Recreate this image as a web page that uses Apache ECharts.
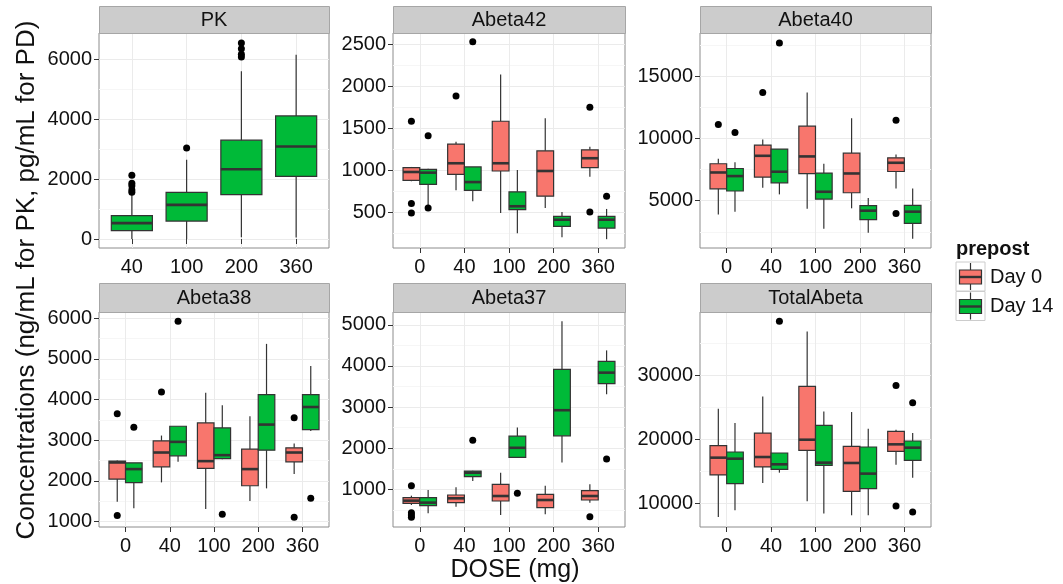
<!DOCTYPE html>
<html>
<head>
<meta charset="utf-8">
<script src="https://cdn.jsdelivr.net/npm/echarts@6/dist/echarts.min.js"></script>
<style>
  html, body { margin: 0; padding: 0; background: #ffffff; }
  #chart { width: 1063px; height: 584px; }
</style>
</head>
<body>
<div id="chart"></div>
<script>
// ---- Dose levels (x axis categories) ----
const dosesPK = ['40', '100', '200', '360'];
const dosesPD = ['0', '40', '100', '200', '360'];

// ---- Box summaries: [lower whisker, Q1, median, Q3, upper whisker] per dose ----
// Outliers: list of values per dose.

// PK (Day 14 only)
const pkDay14 = [[0, 280, 530, 780, 1500], [0, 600, 1140, 1560, 2650], [60, 1480, 2330, 3300, 5600], [50, 2090, 3090, 4110, 6150]];
const pkDay14Out = [[1560, 1640, 1780, 1860, 2130], [3040], [6080, 6170, 6350, 6550], []];

// Abeta42
const ab42Day0 = [[870, 880, 980, 1032, 1040], [764, 952, 1084, 1312, 1340], [492, 992, 1084, 1584, 2140], [552, 692, 992, 1232, 1620], [924, 1032, 1144, 1244, 1280]];
const ab42Day0Out = [[1584, 604, 492], [1884], [], [], [1752, 504]];
const ab42Day14 = [[580, 832, 972, 1012, 1020], [632, 760, 860, 1040, 1040], [252, 532, 572, 744, 1004], [204, 332, 412, 452, 504], [180, 312, 412, 452, 540]];
const ab42Day14Out = [[1412, 552], [2532], [], [], [692]];

// Abeta40
const ab40Day0 = [[3900, 5960, 7270, 7970, 8370], [6040, 6900, 8610, 9470, 9920], [4360, 7170, 8560, 10990, 13690], [4390, 5640, 7190, 8820, 11630], [5990, 7350, 8050, 8450, 8720]];
const ab40Day0Out = [[11120], [13690], [], [], [11470, 3980]];
const ab40Day14 = [[4120, 5780, 6980, 7590, 8100], [5510, 6440, 7330, 9150, 9150], [2750, 5130, 5720, 7220, 7970], [2430, 3480, 4200, 4600, 5210], [1950, 3180, 4120, 4630, 5990]];
const ab40Day14Out = [[10480], [17680], [], [], []];

// Abeta38
const ab38Day0 = [[1490, 2046, 2454, 2487, 2500], [1964, 2348, 2699, 2985, 3116], [1310, 2307, 2487, 3426, 4170], [1507, 1882, 2291, 2781, 3590], [2168, 2471, 2699, 2814, 2920]];
const ab38Day0Out = [[3655, 1147], [4186], [], [], [3557, 1106]];
const ab38Day14 = [[1327, 1956, 2291, 2446, 2450], [2471, 2618, 2961, 3345, 3345], [2536, 2550, 2634, 3304, 3860], [1817, 2757, 3386, 4121, 5371], [3230, 3263, 3818, 4121, 4824]];
const ab38Day14Out = [[3320], [5927], [1180], [], [1572]];

// Abeta37
const ab37Day0 = [[620, 661, 725, 798, 846], [580, 677, 782, 863, 1048], [378, 717, 838, 1121, 1404], [394, 556, 741, 879, 1089], [677, 741, 838, 968, 1121]];
const ab37Day0Out = [[1089, 434, 378, 321], [], [], [], [337]];
const ab37Day14 = [[418, 604, 677, 798, 984], [1202, 1307, 1404, 1444, 1450], [1776, 1776, 2010, 2293, 2503], [1654, 2301, 2923, 3917, 5088], [3311, 3569, 3836, 4111, 4377]];
const ab37Day14Out = [[], [2196], [903], [], [1735]];

// TotalAbeta
const totDay0 = [[7920, 14470, 17170, 19040, 24810], [13220, 15720, 17270, 21010, 26730], [10360, 18310, 19970, 28290, 36860], [8180, 11920, 16340, 18940, 24290], [16080, 18160, 19250, 21270, 21530]];
const totDay0Out = [[], [], [], [], [28440, 9640]];
const totDay14 = [[8960, 13120, 17010, 18050, 22570], [14830, 15350, 16130, 17900, 17900], [8440, 15970, 16390, 22210, 24390], [8180, 12340, 14680, 18830, 21690], [14050, 16750, 18730, 19770, 21010]];
const totDay14Out = [[], [38470], [], [], [25740, 8700]];

// ---- Y axis tick labels and ranges per panel ----
const pkTicks = [0, 2000, 4000, 6000];
const ab42Ticks = [500, 1000, 1500, 2000, 2500];
const ab40Ticks = [5000, 10000, 15000];
const ab38Ticks = [1000, 2000, 3000, 4000, 5000, 6000];
const ab37Ticks = [1000, 2000, 3000, 4000, 5000];
const totTicks = [10000, 20000, 30000];

const pkRange = [-300, 6880];
const ab42Range = [75, 2635];
const ab40Range = [1200, 18480];
const ab38Range = [867, 6155];
const ab37Range = [85, 5310];
const totRange = [6350, 39900];

const panelTitles = ['PK', 'Abeta42', 'Abeta40', 'Abeta38', 'Abeta37', 'TotalAbeta'];
const groupNames = ['Day 0', 'Day 14'];
const groupColors = ['#F8766D', '#00BA38'];

// ---- Panel table ----
const panels = [
  { title: panelTitles[0], doses: dosesPK, ticks: pkTicks, range: pkRange, groups: [null, [pkDay14, pkDay14Out]], single: true },
  { title: panelTitles[1], doses: dosesPD, ticks: ab42Ticks, range: ab42Range, groups: [[ab42Day0, ab42Day0Out], [ab42Day14, ab42Day14Out]] },
  { title: panelTitles[2], doses: dosesPD, ticks: ab40Ticks, range: ab40Range, groups: [[ab40Day0, ab40Day0Out], [ab40Day14, ab40Day14Out]] },
  { title: panelTitles[3], doses: dosesPD, ticks: ab38Ticks, range: ab38Range, groups: [[ab38Day0, ab38Day0Out], [ab38Day14, ab38Day14Out]] },
  { title: panelTitles[4], doses: dosesPD, ticks: ab37Ticks, range: ab37Range, groups: [[ab37Day0, ab37Day0Out], [ab37Day14, ab37Day14Out]] },
  { title: panelTitles[5], doses: dosesPD, ticks: totTicks, range: totRange, groups: [[totDay0, totDay0Out], [totDay14, totDay14Out]] }
];

// ---- Layout (pixels) ----
const colLeft = [99, 393, 700];
const colWidth = [230, 232, 231];
const rowTop = [33, 312];
const stripTop = [6, 283];
const panelHeight = 215;

const FONT = '"Liberation Sans", Arial, Helvetica, sans-serif';
const TEXT = '#111111';
const LINE = '#333333';
const DODGE = 0.1875;   // centre offset of each dodged box, in category units
const BOX_DODGED = 0.375;
const BOX_SINGLE = 0.75;

function minorValues(major, range) {
  const step = major[1] - major[0];
  const out = [];
  for (let v = major[0] - step / 2; v <= range[1]; v += step) {
    if (v >= range[0]) out.push(v);
  }
  return out;
}

function makeRenderBox(boxWidth) {
  return function (params, api) {
    const x = api.value(0);
    const half = api.size([boxWidth / 2, 0])[0];
    const pMed = api.coord([x, api.value(3)]);
    const cx = pMed[0];
    const yMin = api.coord([x, api.value(1)])[1];
    const yQ1 = api.coord([x, api.value(2)])[1];
    const yQ3 = api.coord([x, api.value(4)])[1];
    const yMax = api.coord([x, api.value(5)])[1];
    const fill = api.visual('color');
    return {
      type: 'group',
      children: [
        { type: 'line', shape: { x1: cx, y1: yMax, x2: cx, y2: yQ3 }, style: { stroke: LINE, lineWidth: 1.2 } },
        { type: 'line', shape: { x1: cx, y1: yQ1, x2: cx, y2: yMin }, style: { stroke: LINE, lineWidth: 1.2 } },
        { type: 'rect', shape: { x: cx - half, y: yQ3, width: 2 * half, height: yQ1 - yQ3 }, style: { fill: fill, stroke: LINE, lineWidth: 1.2 } },
        { type: 'line', shape: { x1: cx - half, y1: pMed[1], x2: cx + half, y2: pMed[1] }, style: { stroke: LINE, lineWidth: 2.6 } }
      ]
    };
  };
}

const grids = [], xAxes = [], yAxes = [], series = [], graphics = [];

panels.forEach(function (p, i) {
  const col = i % 3, row = Math.floor(i / 3);
  const n = p.doses.length;
  const positions = p.doses.map(function (_, k) { return k + 1; });

  grids.push({
    left: colLeft[col], top: rowTop[row], width: colWidth[col], height: panelHeight,
    show: true, backgroundColor: '#ffffff', borderColor: '#8c8c8c', borderWidth: 1
  });

  xAxes.push({
    type: 'value', gridIndex: i, min: 0.4, max: n + 0.6,
    axisLine: { show: false },
    axisTick: { show: true, length: 5, customValues: positions, lineStyle: { color: LINE, width: 1 } },
    axisLabel: {
      customValues: positions, margin: 9, fontSize: 20, fontFamily: FONT, color: TEXT,
      formatter: function (v) { return p.doses[Math.round(v) - 1]; }
    },
    splitLine: { show: true, lineStyle: { color: '#ebebeb', width: 1 } }
  });

  // major y axis: labels, ticks, major grid lines
  yAxes.push({
    type: 'value', gridIndex: i, min: p.range[0], max: p.range[1], position: 'left',
    axisLine: { show: false },
    axisTick: { show: true, length: 5, customValues: p.ticks, lineStyle: { color: LINE, width: 1 } },
    axisLabel: {
      customValues: p.ticks, margin: 7, fontSize: 20, fontFamily: FONT, color: TEXT,
      formatter: function (v) { return String(Math.round(v)); }
    },
    splitLine: { show: true, lineStyle: { color: '#ebebeb', width: 1 } }
  });
  // minor y grid lines
  const minors = minorValues(p.ticks, p.range);
  yAxes.push({
    type: 'value', gridIndex: i, min: p.range[0], max: p.range[1], position: 'left',
    axisLine: { show: false },
    axisTick: { show: false, customValues: minors },
    axisLabel: { show: false, customValues: minors },
    splitLine: { show: true, lineStyle: { color: '#f6f6f6', width: 1 } }
  });

  p.groups.forEach(function (g, gi) {
    if (!g) return;
    const stats = g[0], outs = g[1];
    const offset = p.single ? 0 : (gi === 0 ? -DODGE : DODGE);
    const boxW = p.single ? BOX_SINGLE : BOX_DODGED;
    series.push({
      type: 'custom', name: groupNames[gi], xAxisIndex: i, yAxisIndex: 2 * i,
      renderItem: makeRenderBox(boxW),
      itemStyle: { color: groupColors[gi] },
      encode: { x: 0, y: [1, 2, 3, 4, 5] },
      data: stats.map(function (s, k) { return [k + 1 + offset].concat(s); }),
      z: 2, silent: true
    });
    const pts = [];
    outs.forEach(function (vals, k) {
      vals.forEach(function (v) { pts.push([k + 1 + offset, v]); });
    });
    series.push({
      type: 'scatter', xAxisIndex: i, yAxisIndex: 2 * i,
      symbol: 'circle', symbolSize: 7,
      itemStyle: { color: '#000000', opacity: 1 },
      data: pts, z: 3, silent: true
    });
  });

  // facet strip
  graphics.push({
    type: 'rect', left: colLeft[col], top: stripTop[row],
    shape: { width: colWidth[col], height: rowTop[row] - stripTop[row] },
    style: { fill: '#cccccc', stroke: '#a6a6a6', lineWidth: 1 }, z: 10
  });
  graphics.push({
    type: 'text', x: colLeft[col] + colWidth[col] / 2, y: (stripTop[row] + rowTop[row]) / 2 + 1,
    style: { text: p.title, font: '20px ' + FONT, fill: TEXT, align: 'center', verticalAlign: 'middle' }, z: 11
  });
});

// axis titles
graphics.push({
  type: 'text', x: 27, y: 280, rotation: Math.PI / 2,
  style: { text: 'Concentrations (ng/mL for PK, pg/mL for PD)', font: '26px ' + FONT, fill: TEXT, align: 'center', verticalAlign: 'middle' }
});
graphics.push({
  type: 'text', x: 515, y: 570,
  style: { text: 'DOSE (mg)', font: '25px ' + FONT, fill: TEXT, align: 'center', verticalAlign: 'middle' }
});

// legend
graphics.push({
  type: 'text', x: 956, y: 249,
  style: { text: 'prepost', font: 'bold 20px ' + FONT, fill: TEXT, align: 'left', verticalAlign: 'middle' }
});
groupNames.forEach(function (name, gi) {
  const top = 262 + gi * 29.5;
  graphics.push({ type: 'rect', shape: { x: 956, y: top, width: 29, height: 29 }, style: { fill: '#ffffff', stroke: '#cccccc', lineWidth: 1 } });
  graphics.push({ type: 'line', shape: { x1: 970.5, y1: top + 1, x2: 970.5, y2: top + 28 }, style: { stroke: LINE, lineWidth: 1.2 } });
  graphics.push({ type: 'rect', shape: { x: 959.5, y: top + 8, width: 22, height: 14 }, style: { fill: groupColors[gi], stroke: LINE, lineWidth: 1.2 } });
  graphics.push({ type: 'line', shape: { x1: 959.5, y1: top + 15, x2: 981.5, y2: top + 15 }, style: { stroke: LINE, lineWidth: 2.4 } });
  graphics.push({
    type: 'text', x: 990, y: top + 15,
    style: { text: name, font: '20px ' + FONT, fill: TEXT, align: 'left', verticalAlign: 'middle' }
  });
});

const chart = echarts.init(document.getElementById('chart'), null, { renderer: 'canvas' });
chart.setOption({
  animation: false,
  backgroundColor: '#ffffff',
  grid: grids,
  xAxis: xAxes,
  yAxis: yAxes,
  series: series,
  graphic: { elements: graphics }
});
</script>
</body>
</html>
